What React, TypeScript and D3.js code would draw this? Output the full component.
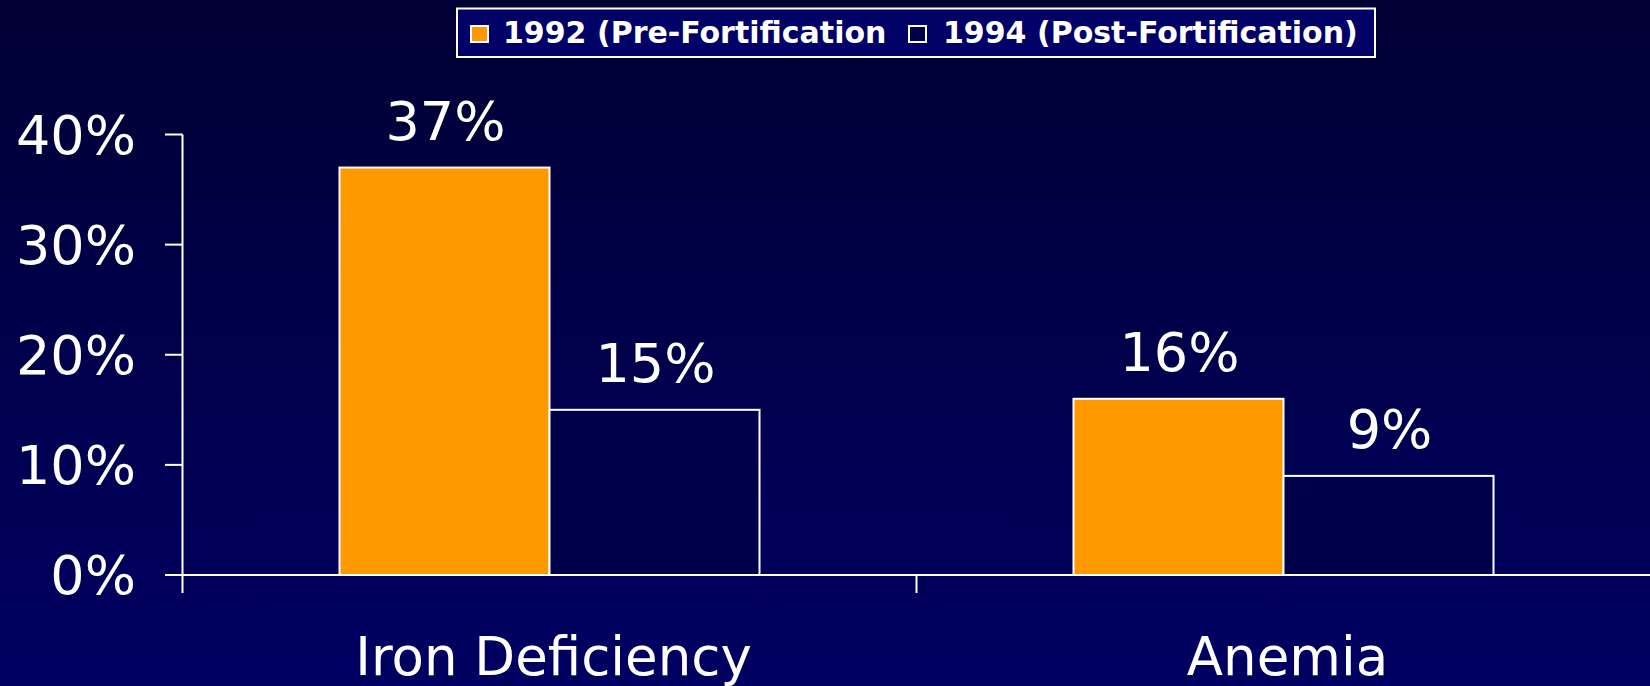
import React from "react";
import * as d3 from "d3";

const categories = ["Iron Deficiency", "Anemia"];
const seriesNames = ["1992 (Pre-Fortification", "1994 (Post-Fortification)"];
const values1992 = [37, 16];
const values1994 = [15, 9];
const yTicks = [0, 10, 20, 30, 40];

const W = 1650;
const H = 686;
const FONT = "'DejaVu Sans', Verdana, sans-serif";
const colors = ["#FF9900", "#00004A"];

export default function App() {
  const x0 = d3.scaleBand<string>().domain(categories).range([182.5, 1650.5]).padding(0);
  const x1 = d3
    .scaleBand<string>()
    .domain(seriesNames)
    .range([0, x0.bandwidth()])
    .paddingInner(0)
    .paddingOuter(0.7476);
  const y = d3.scaleLinear().domain([0, 40]).range([575, 134.5]);
  const seriesValues = [values1992, values1994];
  const axisX = x0.range()[0];
  const base = y(0);

  const legendItems = [
    { swatchX: 471, textX: 503 },
    { swatchX: 909, textX: 943 },
  ];

  return (
    <svg
      width={W}
      height={H}
      style={{ position: "absolute", left: 0, top: 0, display: "block" }}
    >
      <defs>
        <linearGradient id="bg" x1="0" y1="0" x2="0" y2="1">
          <stop offset="0" stopColor="#000034" />
          <stop offset="1" stopColor="#000062" />
        </linearGradient>
      </defs>
      <rect x={0} y={0} width={W} height={H} fill="url(#bg)" />

      {/* Legend */}
      <rect x={457} y={8.5} width={918} height={48.5} fill="#000066" stroke="#fff" strokeWidth={2} />
      {seriesNames.map((s, i) => (
        <g key={s}>
          <rect
            x={legendItems[i].swatchX}
            y={26}
            width={17}
            height={16}
            fill={colors[i]}
            stroke="#fff"
            strokeWidth={2}
          />
          <text
            x={legendItems[i].textX}
            y={43}
            fill="#fff"
            fontFamily={FONT}
            fontWeight="bold"
            fontSize={30}
          >
            {s}
          </text>
        </g>
      ))}

      {/* Bars */}
      {categories.map((c, ci) => (
        <g key={c} transform={`translate(${x0(c)},0)`}>
          {seriesNames.map((s, si) => {
            const v = seriesValues[si][ci];
            const bx = x1(s)!;
            return (
              <g key={s}>
                <rect
                  x={bx}
                  y={y(v)}
                  width={x1.bandwidth()}
                  height={base - y(v)}
                  fill={colors[si]}
                  stroke="#fff"
                  strokeWidth={2}
                />
                <text
                  x={bx + x1.bandwidth() / 2 + 1}
                  y={y(v) - 28}
                  textAnchor="middle"
                  fill="#fff"
                  fontFamily={FONT}
                  fontSize={54}
                >
                  {v}%
                </text>
              </g>
            );
          })}
          <text
            x={x0.bandwidth() / 2 + 4}
            y={675}
            textAnchor="middle"
            fill="#fff"
            fontFamily={FONT}
            fontSize={53}
          >
            {c}
          </text>
        </g>
      ))}

      {/* Axes */}
      <line x1={axisX} x2={W} y1={base} y2={base} stroke="#fff" strokeWidth={2} />
      <line x1={axisX} x2={axisX} y1={y(40)} y2={593} stroke="#fff" strokeWidth={2} />
      {x0.domain().slice(1).map((c) => (
        <line key={c} x1={x0(c)} x2={x0(c)} y1={base} y2={593} stroke="#fff" strokeWidth={2} />
      ))}
      {yTicks.map((t) => (
        <g key={t}>
          <line x1={165} x2={axisX} y1={y(t)} y2={y(t)} stroke="#fff" strokeWidth={2} />
          <text
            x={136}
            y={y(t)}
            dy="0.36em"
            textAnchor="end"
            fill="#fff"
            fontFamily={FONT}
            fontSize={54}
          >
            {t}%
          </text>
        </g>
      ))}
    </svg>
  );
}
